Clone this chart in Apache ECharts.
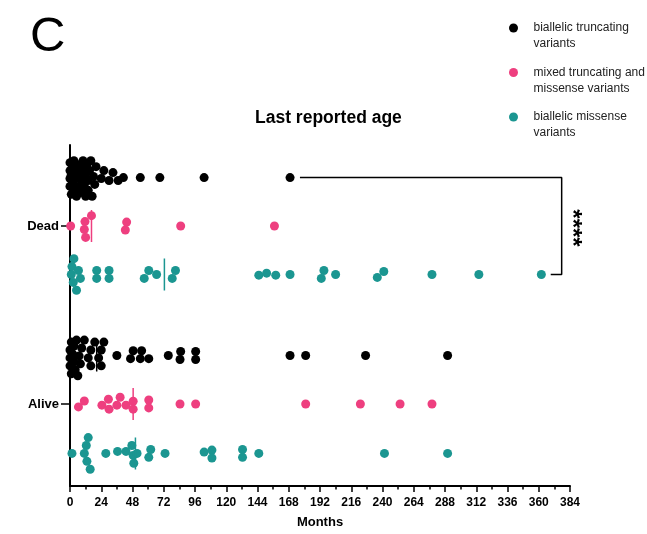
<!DOCTYPE html>
<html><head><meta charset="utf-8">
<script src="https://cdn.jsdelivr.net/npm/echarts@6/dist/echarts.min.js"></script>
<style>html,body{margin:0;padding:0;background:#fff}#c{width:647px;height:534px}</style>
</head><body><div id="c"></div>
<script>
// ---------- data (months, last reported age) ----------
const seriesNames = ['biallelic truncating variants', 'mixed truncating and missense variants', 'biallelic missense variants'];
const legendLines = [['biallelic truncating', 'variants'], ['mixed truncating and', 'missense variants'], ['biallelic missense', 'variants']];
const outcomes = ['Dead', 'Alive'];
const deadTruncating = [0,0,0,0,1,1,2,2,3,3,4,4,5,6,6,7,8,9,10,10,11,12,12,13,14,14,15,16,17,18,19,20,24,26,30,33,37,41,54,69,103,169];
const deadMixed = [0.5,11,11.5,12,16.5,42.5,43.5,85,157];
const deadMissense = [1,1.5,2.5,3,5,6.5,8,20.5,20.5,30,30,57,60.5,66.5,78.5,81,145,151,158,169,193,195,204,236,241,278,314,362];
const aliveTruncating = [0,0,0,1,1,2,3,3,4,5,6,7,8,9,11,14,16,16,19,22,24,24,26,36,46.5,48.5,54,55,60.5,75.5,84.5,85,96.5,96.5,169,181,227,290];
const aliveMixed = [6.5,11,24.5,29.5,30,36,38.5,43,48.5,48.5,60.5,60.5,84.5,96.5,181,223,253.5,278];
const aliveMissense = [1.5,11,12.5,13,14,15.5,27.5,36.5,43,47.5,48.5,49,51.5,60.5,62,73,103,109,109,132.5,132.5,145,241.5,290];
const xMin = 0, xMax = 384, xInterval = 24;
const significance = '****';

// ---------- layout ----------
const colors = ['#000000', '#ee3f7f', '#1b9691'];
const grid = {left: 70, right: 77, top: 145, bottom: 44};
const W = 647, H = 534;
const yMax = 7.04;
const rowY = {Dead: [6.367, 5.367, 4.367], Alive: [2.694, 1.694, 0.673]};
const pxPerX = (W - grid.left - grid.right) / (xMax - xMin);
const pxPerY = (H - grid.top - grid.bottom) / yMax;
const FONT = 'Liberation Sans, Arial, sans-serif';

// beeswarm placement computed from the values
function swarm(values, y0) {
  const sorted = values.slice().sort((a, b) => a - b);
  const placed = [];
  const minD = 8, step = 2, maxOff = 18;
  const cands = [0];
  for (let k = step; k <= maxOff; k += step) cands.push(k, -k);
  sorted.forEach(v => {
    const x = v * pxPerX;
    let best = 0, bestScore = -1;
    for (const o of cands) {
      let md = Infinity;
      for (const p of placed) {
        const d = Math.hypot(p[0] - x, p[1] - o);
        if (d < md) md = d;
      }
      if (md >= minD) { best = o; break; }
      if (md > bestScore) { bestScore = md; best = o; }
    }
    placed.push([x, best]);
  });
  // center each touching component vertically
  const n = placed.length, comp = new Array(n).fill(-1);
  let c = 0;
  for (let i = 0; i < n; i++) {
    if (comp[i] >= 0) continue;
    const stack = [i]; comp[i] = c;
    while (stack.length) {
      const a = stack.pop();
      for (let j = 0; j < n; j++) {
        if (comp[j] < 0 && Math.hypot(placed[a][0] - placed[j][0], placed[a][1] - placed[j][1]) < minD + 1.5) {
          comp[j] = c; stack.push(j);
        }
      }
    }
    c++;
  }
  const sum = new Array(c).fill(0), cnt = new Array(c).fill(0);
  placed.forEach((p, i) => { sum[comp[i]] += p[1]; cnt[comp[i]]++; });
  return placed.map((p, i) => [sorted[i], y0 + (p[1] - sum[comp[i]] / cnt[comp[i]]) / pxPerY]);
}
function median(a) {
  const s = a.slice().sort((x, y) => x - y), n = s.length;
  return n % 2 ? s[(n - 1) / 2] : (s[n / 2 - 1] + s[n / 2]) / 2;
}

const groups = [
  {o: 'Dead', k: 0, v: deadTruncating}, {o: 'Dead', k: 1, v: deadMixed}, {o: 'Dead', k: 2, v: deadMissense},
  {o: 'Alive', k: 0, v: aliveTruncating}, {o: 'Alive', k: 1, v: aliveMixed}, {o: 'Alive', k: 2, v: aliveMissense}
];
const series = [];
groups.forEach(g => {
  const y0 = rowY[g.o][g.k];
  series.push({
    type: 'scatter', name: seriesNames[g.k], data: swarm(g.v, y0),
    symbol: 'circle', symbolSize: 9, itemStyle: {color: colors[g.k], opacity: 1},
    z: 3, silent: true
  });
  const m = median(g.v);
  series.push({
    type: 'line', name: 'median ' + g.o + g.k, data: [[m, y0 - 0.33], [m, y0 + 0.33]],
    symbol: 'none', lineStyle: {color: colors[g.k], width: 1.5}, z: 4, silent: true
  });
});
// significance bracket between Dead truncating and Dead missense
series.push({
  type: 'line', name: 'bracket',
  data: [[176.6, rowY.Dead[0]], [377.6, rowY.Dead[0]], [377.6, rowY.Dead[2]], [369.2, rowY.Dead[2]]],
  symbol: 'none', lineStyle: {color: '#000', width: 1.5}, silent: true, z: 2
});

const chart = echarts.init(document.getElementById('c'), null, {renderer: 'canvas'});
chart.setOption({
  animation: false,
  backgroundColor: '#fff',
  title: [
    {text: 'Last reported age', left: 255, top: 109, padding: 0,
     textStyle: {fontFamily: FONT, fontSize: 17.5, fontWeight: 'bold', color: '#000'}},
    {text: 'C', left: 30, top: 13, padding: 0,
     textStyle: {fontFamily: FONT, fontSize: 49, fontWeight: 'normal', color: '#000'}}
  ],
  legend: {
    orient: 'vertical', left: 509, top: 4, padding: 0, itemGap: -3.5,
    itemWidth: 30, itemHeight: 9, selectedMode: false,
    data: seriesNames.map(n => ({name: n, icon: 'circle'})),
    formatter: name => { const l = legendLines[seriesNames.indexOf(name)]; return '\n' + l[0] + '\n' + l[1]; },
    textStyle: {fontFamily: FONT, fontSize: 12, lineHeight: 16, color: '#222'}
  },
  grid: grid,
  xAxis: {
    type: 'value', min: xMin, max: xMax, interval: xInterval,
    name: 'Months', nameLocation: 'middle', nameGap: 30,
    nameTextStyle: {fontFamily: FONT, fontSize: 13, fontWeight: 'bold', color: '#000'},
    axisLine: {show: true, lineStyle: {color: '#000', width: 2}},
    axisTick: {show: true, length: 6, lineStyle: {color: '#000', width: 1.5}},
    minorTick: {show: true, splitNumber: 2, length: 3.5, lineStyle: {color: '#000', width: 1.5}},
    axisLabel: {fontFamily: FONT, fontSize: 12, fontWeight: 'bold', color: '#000', margin: 11},
    splitLine: {show: false}
  },
  yAxis: {
    type: 'value', min: 0, max: yMax,
    axisLine: {show: true, lineStyle: {color: '#000', width: 2}},
    axisTick: {show: true, length: 9, lineStyle: {color: '#000', width: 1.5}, customValues: [rowY.Dead[1], rowY.Alive[1]]},
    axisLabel: {show: true, customValues: [rowY.Dead[1], rowY.Alive[1]], margin: 11,
      formatter: v => (Math.abs(v - rowY.Dead[1]) < 0.01 ? outcomes[0] : outcomes[1]),
      fontFamily: FONT, fontSize: 13, fontWeight: 'bold', color: '#000'},
    splitLine: {show: false}
  },
  graphic: [{
    type: 'text', x: 572, y: 228, rotation: -Math.PI / 2,
    style: {text: significance, fontFamily: FONT, fontSize: 24, fontWeight: 'bold', fill: '#000', align: 'center', verticalAlign: 'middle'}
  }],
  series: series
});
</script></body></html>
